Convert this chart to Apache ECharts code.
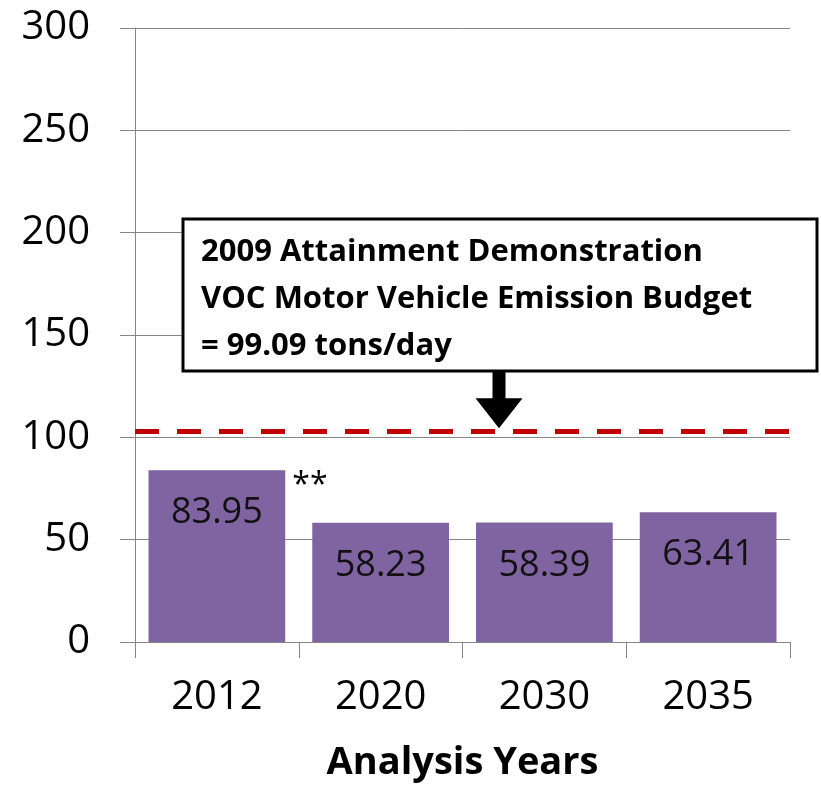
<!DOCTYPE html>
<html lang="en">
<head>
    <meta charset="UTF-8">
    <title>VOC Emissions</title>
    <style>
        html, body { margin: 0; padding: 0; background: #fff; }
    </style>
</head>
<body>
<div id="main" style="width: 821px;height: 791px;"></div>
<script src="https://cdn.jsdelivr.net/npm/echarts@6/dist/echarts.min.js"></script>
<script type="text/javascript">
    // analysis years and VOC emissions (tons/day)
    var years = ['2012', '2020', '2030', '2035'];
    var emissions = [83.95, 58.23, 58.39, 63.41];
    // budget line as drawn in the picture
    var budgetLine = 103;
    var yTicks = [0, 50, 100, 150, 200, 250, 300];
    var noteLines = [
        '2009 Attainment Demonstration',
        'VOC Motor Vehicle Emission Budget',
        '= 99.09 tons/day'
    ];

    var font = '"Open Sans", sans-serif';
    var myChart = echarts.init(document.getElementById('main'));

    var option = {
        animation: false,
        grid: { left: 135, right: 31, top: 28, bottom: 149 },
        xAxis: {
            type: 'category',
            data: years,
            name: 'Analysis Years',
            nameLocation: 'middle',
            nameGap: 102,
            nameTextStyle: { fontFamily: font, fontSize: 38, fontWeight: 'bold', color: '#000' },
            axisLine: { lineStyle: { color: '#868686', width: 1 } },
            axisTick: { show: true, length: 16, lineStyle: { color: '#868686' } },
            axisLabel: { fontFamily: font, fontSize: 40, color: '#000', margin: 36 }
        },
        yAxis: {
            type: 'value',
            min: yTicks[0],
            max: yTicks[yTicks.length - 1],
            interval: 50,
            axisLine: { show: true, lineStyle: { color: '#868686', width: 1 } },
            axisTick: { show: true, length: 15, lineStyle: { color: '#868686' } },
            axisLabel: { fontFamily: font, fontSize: 40, color: '#000', margin: 45 },
            splitLine: { lineStyle: { color: '#868686', width: 1 } }
        },
        series: [
            {
                type: 'bar',
                data: emissions,
                barCategoryGap: '16.5%',
                itemStyle: { color: '#8064A2' },
                label: {
                    show: true,
                    position: 'insideTop',
                    distance: 25,
                    fontFamily: font,
                    fontSize: 36,
                    color: '#111',
                    formatter: function (p) { return p.value.toFixed(2); }
                },
                markLine: {
                    silent: true,
                    symbol: ['none', 'none'],
                    label: { show: false },
                    lineStyle: { color: '#C00000', width: 5, type: [24, 18] },
                    data: [{ yAxis: budgetLine }]
                },
                markPoint: {
                    silent: true,
                    symbol: 'circle',
                    symbolSize: 1,
                    itemStyle: { color: 'rgba(0,0,0,0)' },
                    label: {
                        show: true,
                        formatter: '**',
                        fontFamily: font,
                        fontSize: 32,
                        color: '#000',
                        offset: [93, 16]
                    },
                    data: [{ coord: [years[0], emissions[0]] }]
                }
            }
        ]
    };
    myChart.setOption(option);

    // note box with arrow pointing at the budget line
    var tipY = myChart.convertToPixel({ yAxisIndex: 0 }, budgetLine) - 3;
    var boxTop = 219, boxBottom = 371, arrowX = 499;
    myChart.setOption({
        graphic: [
            {
                type: 'rect',
                z: 100,
                shape: { x: 183, y: boxTop, width: 634, height: boxBottom - boxTop },
                style: { fill: '#fff', stroke: '#000', lineWidth: 3 }
            },
            {
                type: 'text',
                z: 101,
                left: 201,
                top: 229,
                style: {
                    text: noteLines.join('\n'),
                    fontFamily: font,
                    fontWeight: 'bold',
                    fontSize: 31,
                    lineHeight: 47,
                    fill: '#000'
                }
            },
            {
                type: 'polygon',
                z: 101,
                shape: {
                    points: [
                        [arrowX - 6.5, boxBottom], [arrowX + 6.5, boxBottom],
                        [arrowX + 6.5, tipY - 30], [arrowX + 23.5, tipY - 30],
                        [arrowX, tipY], [arrowX - 23.5, tipY - 30],
                        [arrowX - 6.5, tipY - 30]
                    ]
                },
                style: { fill: '#000' }
            }
        ]
    });
</script>
</body>
</html>
